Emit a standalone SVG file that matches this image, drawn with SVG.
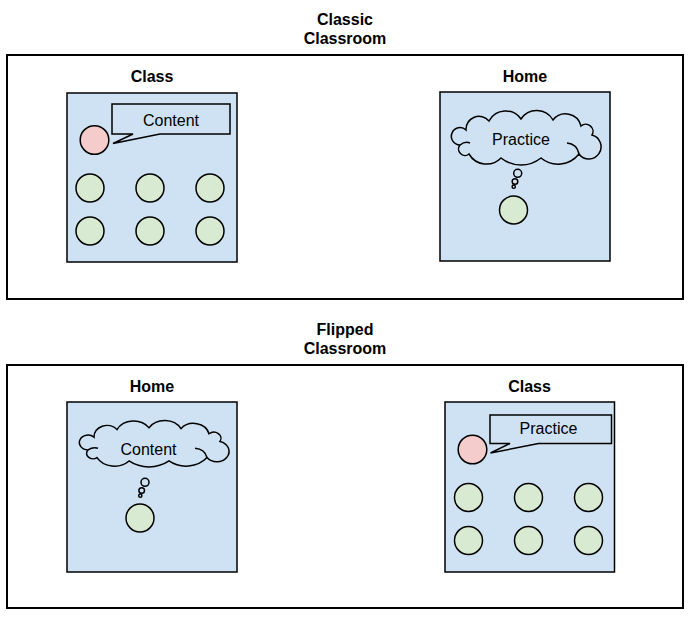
<svg xmlns="http://www.w3.org/2000/svg" xmlns:xlink="http://www.w3.org/1999/xlink" width="700" height="623" viewBox="0 0 700 623">
<style>
  .title { font-family: "Liberation Sans", Arial, sans-serif; font-size: 16px; font-weight: bold; fill: #000; text-anchor: middle; }
  .label { font-family: "Liberation Sans", Arial, sans-serif; font-size: 16px; fill: #000; text-anchor: middle; }
  .frame { fill: #fff; stroke: #000; stroke-width: 2; }
  .room { fill: #cfe2f3; stroke: #000; stroke-width: 1.5; }
  .student { fill: #d9ead3; stroke: #000; stroke-width: 1.5; }
  .teacher { fill: #f4cccc; stroke: #000; stroke-width: 1.5; }
  .bubble { fill: #cfe2f3; stroke: #000; stroke-width: 1.5; stroke-linejoin: miter; }
  .cloud { fill: #cfe2f3; stroke: #000; stroke-width: 1.5; vector-effect: non-scaling-stroke; }
  .curl { fill: none; stroke: #000; stroke-width: 1.5; vector-effect: non-scaling-stroke; }
  .dot { fill: #cfe2f3; stroke: #000; stroke-width: 1.5; }
</style>
<defs>
  <g id="cloudShape">
    <path class="cloud" d="M 13 19 A 13 13 0 0 1 36 10 A 18.8 18.8 0 0 1 68 8 A 18.7 18.7 0 0 1 100 9 A 15.9 15.9 0 0 1 128 15 A 7.2 7.2 0 0 1 139 24 A 12.2 12.2 0 1 1 126 43 A 26.8 26.8 0 0 1 88 47 A 32.1 32.1 0 0 1 48 47 A 20.25 20.25 0 0 1 16 43 A 6.4 6.4 0 0 1 7 34 A 8.68 8.68 0 1 1 13 19 Z"/>
    <path class="curl" d="M 7 34 Q 12 30 17 32"/>
    <path class="curl" d="M 126 43 Q 124 33 114 32"/>
  </g>
</defs>

<!-- Classic classroom -->
<g id="classic">
  <text class="title" x="345" y="25">Classic</text>
  <text class="title" x="345" y="44">Classroom</text>
  <rect class="frame" x="7" y="55" width="676" height="244"/>
</g>

<g id="classic-class">
  <text class="title" x="152" y="82">Class</text>
  <rect class="room" x="67" y="93" width="170" height="169"/>
  <path class="bubble" d="M 112 104 H 230 V 134 H 160 L 113 143.5 L 133 134 H 112 Z"/>
  <text class="label" x="171" y="125.5">Content</text>
  <circle class="teacher" cx="94.5" cy="140" r="14.3"/>
  <circle class="student" cx="90" cy="188" r="14"/>
  <circle class="student" cx="150" cy="188" r="14"/>
  <circle class="student" cx="210" cy="188" r="14"/>
  <circle class="student" cx="90" cy="231" r="14"/>
  <circle class="student" cx="150" cy="231" r="14"/>
  <circle class="student" cx="210" cy="231" r="14"/>
</g>

<g id="classic-home">
  <text class="title" x="525" y="82">Home</text>
  <rect class="room" x="440" y="92" width="170" height="169"/>
  <use xlink:href="#cloudShape" href="#cloudShape" transform="translate(453,111)"/>
  <text class="label" x="521" y="145">Practice</text>
  <circle class="student" cx="513.5" cy="210" r="14"/>
</g>

<!-- Flipped classroom -->
<g id="flipped">
  <text class="title" x="345" y="335">Flipped</text>
  <text class="title" x="345" y="354">Classroom</text>
  <rect class="frame" x="7" y="365" width="676" height="243"/>
</g>

<g id="flipped-home">
  <text class="title" x="152" y="392">Home</text>
  <rect class="room" x="67" y="402" width="170" height="170"/>
  <use xlink:href="#cloudShape" href="#cloudShape" transform="translate(81,421) scale(1,0.85)"/>
  <text class="label" x="148.5" y="454.5">Content</text>
  <circle class="student" cx="140" cy="518" r="14"/>
</g>

<g id="flipped-class">
  <text class="title" x="529.5" y="392">Class</text>
  <rect class="room" x="445" y="402" width="169.5" height="170"/>
  <path class="bubble" d="M 490 415 H 611.5 V 443.5 H 538.5 L 490.5 453 L 510 443.5 H 490 Z"/>
  <text class="label" x="548.5" y="433.5">Practice</text>
  <circle class="teacher" cx="472.5" cy="449.5" r="14.3"/>
  <circle class="student" cx="468.5" cy="497.5" r="14"/>
  <circle class="student" cx="528.5" cy="497.5" r="14"/>
  <circle class="student" cx="588.5" cy="497.5" r="14"/>
  <circle class="student" cx="468.5" cy="540.5" r="14"/>
  <circle class="student" cx="528.5" cy="540.5" r="14"/>
  <circle class="student" cx="588.5" cy="540.5" r="14"/>
</g>

<!-- thought-bubble connectors -->
<g id="connectors">
  <circle class="dot" cx="517.7" cy="173.3" r="4"/>
  <circle class="dot" cx="515" cy="181.5" r="2.8"/>
  <circle class="dot" cx="513.7" cy="186.7" r="1.6"/>
  <circle class="dot" cx="145" cy="482.3" r="4"/>
  <circle class="dot" cx="141.7" cy="490.5" r="2.8"/>
  <circle class="dot" cx="140.3" cy="495.7" r="1.6"/>
</g>
</svg>
